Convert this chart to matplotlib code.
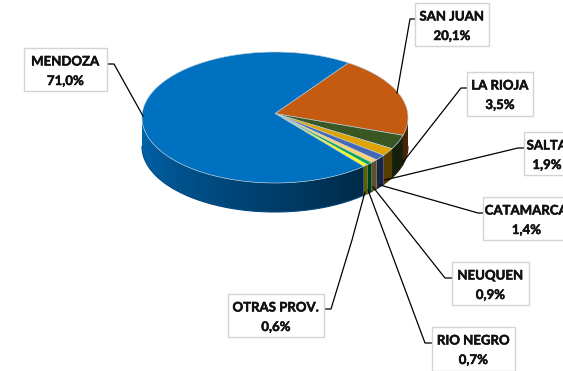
import numpy as np
import matplotlib
matplotlib.use("Agg")
from matplotlib import pyplot as plt
from matplotlib.patches import Polygon, Rectangle
from matplotlib.colors import to_rgb
import matplotlib.patheffects as pe

# datos
provincias = ["SAN JUAN", "LA RIOJA", "SALTA", "CATAMARCA", "NEUQUEN", "RIO NEGRO", "OTRAS PROV.", "MENDOZA"]
porcentajes = [20.1, 3.5, 1.9, 1.4, 0.9, 0.7, 0.6, 71.0]
etiquetas = ["20,1%", "3,5%", "1,9%", "1,4%", "0,9%", "0,7%", "0,6%", "71,0%"]
colores = ["#c55a11", "#385723", "#e0a300", "#4468b4", "#ffd272", "#00a651", "#ffff00", "#0070c0"]

# caja (x0, y0, x1, y1) y linea guia de cada etiqueta, en pixeles
cajas = [(415, 3, 489, 46), (467, 72, 533, 116), (524, 132, 570, 175), (483, 197, 570, 240),
         (452, 262, 529, 305), (432, 327, 515, 371), (228, 294, 324, 337), (24, 48, 107, 91)]
guias = [[(415, 19), (410, 19), (397, 93)],
         [(467, 88), (461, 88), (403, 162)],
         [(524, 148), (518, 148), (385, 180)],
         [(483, 213), (478, 213), (380, 185)],
         [(452, 278), (445, 278), (373, 187)],
         [(432, 343), (425, 343), (368, 190)],
         [(324, 309), (331, 309), (352, 240), (365, 192)],
         [(107, 64), (114, 64), (143, 116)]]

cx, cy = 275, 117.5
a, b = 133, 65.5
apice = (275, 113.5)
alto = 29
inicio = 56.5

fig = plt.figure(figsize=(5.63, 3.71), dpi=100)
ax = fig.add_axes([0, 0, 1, 1])
ax.set_xlim(0, 563)
ax.set_ylim(371, 0)
ax.axis("off")


def borde(t):
    t = np.radians(t)
    return cx + a * np.cos(t), cy - b * np.sin(t)


def sombra(t):
    # el lateral se oscurece de izquierda a derecha
    return np.clip(0.92 - 0.54 * (t - 180) / 130, 0.38, 1)


# angulos de cada porcion, en sentido horario desde inicio
total = sum(porcentajes)
angulos = inicio - np.cumsum([0] + porcentajes) * 360 / total

# lateral con degradado, recortado a la forma de cada porcion
columnas = np.arange(cx - a, cx + a + 1, 1.0)
angulo_col = 360 - np.degrees(np.arccos(np.clip((columnas + 0.5 - cx) / a, -1, 1)))
for i in range(len(porcentajes)):
    t1, t0 = angulos[i] % 360, angulos[i + 1] % 360
    if t1 <= t0:
        t1 += 360
    t0 = max(t0, 180)
    t1 = min(t1, 360)
    if t1 <= t0:
        continue
    ts = np.linspace(t0, t1, 200)
    xs, ys = borde(ts)
    forma = list(zip(xs, ys)) + list(zip(xs[::-1], ys[::-1] + alto))
    base = np.array(to_rgb(colores[i]))
    grad = np.array([base * sombra(t) for t in angulo_col])[np.newaxis, :, :]
    parche = Polygon(forma, closed=True, facecolor="none", edgecolor="none")
    ax.add_patch(parche)
    img = ax.imshow(grad, extent=(cx - a, cx + a + 1, cy + b + alto + 5, cy - 5), aspect="auto",
                    interpolation="bilinear", zorder=2)
    img.set_clip_path(parche)
    # suaviza el borde inferior
    ax.plot(xs, ys + alto, color=base * sombra(np.mean(ts)), lw=0.8, zorder=2)
ax.set_xlim(0, 563)
ax.set_ylim(371, 0)

# cara superior
for i in range(len(porcentajes)):
    ts = np.linspace(angulos[i], angulos[i + 1], 200)
    xs, ys = borde(ts)
    puntos = [apice] + list(zip(xs, ys))
    ax.add_patch(Polygon(puntos, closed=True, facecolor=colores[i], edgecolor="#b9cbd8",
                         lw=0.45, zorder=3, joinstyle="round"))

# etiquetas
grueso = [pe.withStroke(linewidth=0.35, foreground="#111111")]
for nombre, valor, caja, guia in zip(provincias, etiquetas, cajas, guias):
    x0, y0, x1, y1 = caja
    px, py = zip(*guia)
    ax.plot(px, py, color="black", lw=0.9, zorder=4, solid_joinstyle="round")
    ax.add_patch(Rectangle((x0, y0), x1 - x0, y1 - y0, facecolor="white", edgecolor="#d4d4d4",
                           lw=1, zorder=5))
    xm = (x0 + x1) / 2
    ax.text(xm, y0 + 13.5, nombre, ha="center", va="center", fontsize=9.5, fontweight="bold",
            family="Lato", color="#111111", zorder=6, path_effects=grueso)
    ax.text(xm, y0 + 33, valor, ha="center", va="center", fontsize=9.5, fontweight="bold",
            family="Lato", color="#111111", zorder=6, path_effects=grueso)

fig.savefig("out.png", dpi=100, facecolor="white")
